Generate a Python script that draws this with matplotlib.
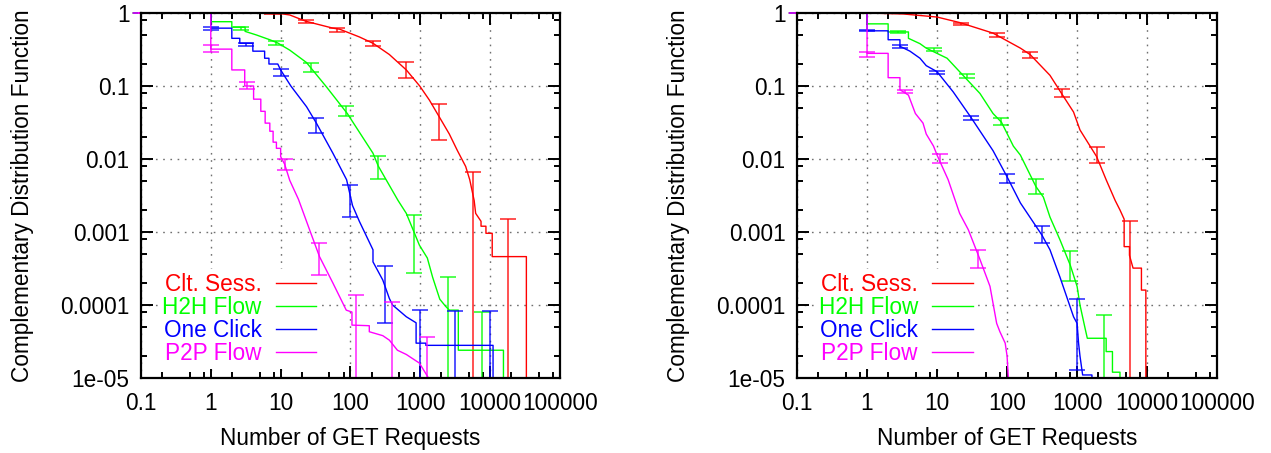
import numpy as np
import matplotlib.pyplot as plt
from matplotlib.ticker import FixedLocator, FixedFormatter, LogLocator, NullFormatter
from matplotlib.lines import Line2D

plt.rcParams['font.family'] = ['Liberation Sans', 'DejaVu Sans']
FS = 16.3

SERIES = ['Clt. Sess.', 'H2H Flow', 'One Click', 'P2P Flow']
COLORS = ['#ff0000', '#00ff00', '#0000ff', '#ff00ff']

XTICKS = [0.1, 1, 10, 100, 1000, 10000, 100000]
XTICK_LABELS = ['0.1', '1', '10', '100', '1000', '10000', '100000']
YTICKS = [1, 0.1, 0.01, 0.001, 0.0001, 0.00001]
YTICK_LABELS = ['1', '0.1', '0.01', '0.001', '0.0001', '1e-05']

# ---- left panel: CCDF curves and error bars (x, low, high) ----
a_sess_x = [0.078, 3, 10, 13.5, 23, 56, 70, 134, 210, 360, 630, 980, 1350, 1860, 2600, 3400,
            4460, 5100, 5900, 6200, 7400, 7400, 8700, 8700, 10700, 10700, 33000, 33000]
a_sess_y = [1, 1, 0.98, 0.94, 0.77, 0.62, 0.6, 0.47, 0.385, 0.27, 0.166, 0.1, 0.064, 0.038,
            0.022, 0.013, 0.0079, 0.0052, 0.0027, 0.0018, 0.0014, 0.0012, 0.0012, 0.00096,
            0.00096, 0.00046, 0.00046, 1e-5]
a_sess_ex = [2.4, 7.5, 23, 65, 210, 630, 1860, 5600, 17900]
a_sess_lo = [0.995, 0.975, 0.74, 0.55, 0.35, 0.13, 0.018, 1e-5, 1e-5]
a_sess_hi = [1.0, 0.995, 0.80, 0.62, 0.42, 0.215, 0.057, 0.0067, 0.0015]

a_h2h_x = [0.078, 1, 1, 2.0, 2.0, 3.1, 3.1, 4.5, 7, 9, 13.5, 23.4, 45, 90, 210, 250, 480,
           630, 970, 1260, 1500, 1900, 2300, 2600, 3500, 3500, 15500, 15500]
a_h2h_y = [1, 1, 0.76, 0.76, 0.64, 0.64, 0.56, 0.5, 0.43, 0.39, 0.31, 0.21, 0.098, 0.042,
           0.012, 0.008, 0.0027, 0.0018, 0.00066, 0.00044, 0.00024, 0.00012, 0.000096,
           0.000085, 0.000085, 0.000024, 0.000024, 1e-5]
a_h2h_ex = [0.9, 2.75, 8.7, 27, 85, 250, 800, 2460, 7600]
a_h2h_lo = [1.0, 0.59, 0.365, 0.157, 0.039, 0.0054, 0.00027, 1e-5, 1e-5]
a_h2h_hi = [1.0, 0.65, 0.41, 0.205, 0.054, 0.011, 0.0017, 0.00024, 0.000079]

a_click_x = [0.078, 1, 1, 2.0, 2.0, 2.6, 2.6, 4, 4, 5.9, 5.9, 6.8, 6.8, 9.1, 10, 14, 23.5,
             32.5, 56, 88, 107, 134, 210, 210, 290, 360, 400, 630, 870, 870, 1200, 1200,
             11000, 11000]
a_click_y = [1, 1, 0.62, 0.62, 0.45, 0.45, 0.385, 0.385, 0.3, 0.3, 0.24, 0.24, 0.2, 0.2,
             0.166, 0.1, 0.052, 0.031, 0.012, 0.0052, 0.0023, 0.0014, 0.00057, 0.00039,
             0.00022, 0.000123, 0.0001, 0.000069, 0.000057, 0.00003, 0.00003, 0.000028,
             0.000028, 1e-5]
a_click_ex = [0.32, 1, 3.2, 10, 32, 100, 316, 1000, 3160, 10000]
a_click_lo = [1, 0.58, 0.35, 0.135, 0.023, 0.0016, 0.000057, 1e-5, 1e-5, 1e-5]
a_click_hi = [1, 0.65, 0.39, 0.17, 0.036, 0.0044, 0.00034, 0.000085, 0.000084, 0.000084]

a_p2p_x = [0.078, 1, 1, 2.0, 2.0, 3.06, 3.06, 4.1, 4.1, 5.2, 5.2, 6, 6, 7, 7, 7.8, 7.8, 8.7,
           8.7, 10, 10, 11.4, 13.5, 18, 26, 36, 56, 87, 105, 105, 186, 186, 290, 360, 470,
           630, 970, 1270, 1300]
a_p2p_y = [1, 1, 0.32, 0.32, 0.166, 0.166, 0.1, 0.1, 0.066, 0.066, 0.045, 0.045, 0.031,
           0.031, 0.024, 0.024, 0.017, 0.017, 0.014, 0.014, 0.0108, 0.0085, 0.0051, 0.0028,
           0.00107, 0.00046, 0.0002, 0.000085, 0.00008, 0.000053, 0.000052, 0.000043,
           0.000038, 0.000033, 0.000024, 0.000021, 0.000016, 0.0000105, 1e-5]
a_p2p_ex = [0.12, 0.36, 1, 3.3, 11.4, 36, 120, 390, 1260]
a_p2p_lo = [1, 1, 0.29, 0.09, 0.0071, 0.00026, 1e-5, 1e-5, 1e-5]
a_p2p_hi = [1, 1, 0.36, 0.114, 0.0099, 0.0007, 0.000135, 0.00011, 0.000036]

# ---- right panel ----
b_sess_x = [0.078, 1, 3.3, 10, 21, 63, 155, 213, 410, 600, 890, 1100, 1900, 2600, 3500, 4100,
            4700, 4700, 5600, 5600, 6300, 8300, 8300, 9600, 9600]
b_sess_y = [1, 1, 0.97, 0.88, 0.74, 0.53, 0.33, 0.27, 0.14, 0.079, 0.044, 0.025, 0.0108,
            0.0052, 0.0027, 0.002, 0.0015, 0.00063, 0.00063, 0.00048, 0.00032, 0.00032,
            0.00016, 0.00016, 1e-5]
b_sess_ex = [0.7, 22, 71, 213, 600, 1900, 5700]
b_sess_lo = [1, 0.69, 0.47, 0.24, 0.07, 0.0087, 1e-5]
b_sess_hi = [1, 0.74, 0.53, 0.29, 0.09, 0.0148, 0.0014]

b_h2h_x = [0.078, 1, 1, 2, 2, 3.9, 3.9, 5.7, 7, 13.9, 21, 41, 63, 83, 123, 155, 258, 330, 410,
           570, 800, 1000, 1100, 1300, 1400, 2600, 2600, 3200, 3200, 4100, 4100]
b_h2h_y = [1, 1, 0.71, 0.71, 0.55, 0.55, 0.45, 0.38, 0.33, 0.24, 0.157, 0.079, 0.042, 0.032,
           0.015, 0.0113, 0.0042, 0.003, 0.0016, 0.00078, 0.00035, 0.00018, 0.0001, 0.000048,
           0.000035, 0.000035, 0.000023, 0.000023, 0.000012, 0.000012, 1e-5]
b_h2h_ex = [0.85, 2.8, 8.9, 26.5, 83, 258, 800, 2460]
b_h2h_lo = [1, 0.53, 0.30, 0.127, 0.029, 0.0033, 0.00021, 1e-5]
b_h2h_hi = [1, 0.57, 0.33, 0.146, 0.036, 0.0053, 0.00055, 0.000074]

b_click_x = [0.078, 1, 1, 2, 2, 2.95, 2.95, 4.1, 5.7, 7, 10, 17, 30, 63, 100, 155, 316, 410,
             570, 710, 890, 1000, 1050, 1100, 1200, 1630, 1630]
b_click_y = [1, 1, 0.57, 0.57, 0.43, 0.43, 0.35, 0.3, 0.24, 0.19, 0.157, 0.083, 0.038, 0.013,
             0.0057, 0.0025, 0.0009, 0.00057, 0.00024, 0.00013, 0.000069, 0.000056, 0.00003,
             0.00002, 0.000011, 0.000011, 1e-5]
b_click_ex = [0.32, 1, 3.0, 10, 31, 100, 316, 1000]
b_click_lo = [1, 0.56, 0.33, 0.145, 0.034, 0.0047, 0.0007, 0.000013]
b_click_hi = [1, 0.58, 0.36, 0.16, 0.039, 0.0063, 0.0012, 0.00012]

b_p2p_x = [0.078, 1, 1, 2, 2, 2.95, 2.95, 3.9, 4.9, 6.3, 7, 8.9, 10, 14.4, 21, 28, 41, 57, 71,
           79, 94, 100, 104, 105]
b_p2p_y = [1, 1, 0.28, 0.28, 0.13, 0.13, 0.089, 0.075, 0.042, 0.031, 0.022, 0.015, 0.0113,
           0.0052, 0.0018, 0.00107, 0.00042, 0.00018, 0.000056, 0.000043, 0.00003, 0.00002,
           0.0000105, 1e-5]
b_p2p_ex = [0.12, 0.36, 1, 3.5, 11, 38]
b_p2p_lo = [1, 1, 0.25, 0.079, 0.0087, 0.00032]
b_p2p_hi = [1, 1, 0.295, 0.089, 0.0117, 0.00057]

left_data = [
    (a_sess_x, a_sess_y, a_sess_ex, a_sess_lo, a_sess_hi),
    (a_h2h_x, a_h2h_y, a_h2h_ex, a_h2h_lo, a_h2h_hi),
    (a_click_x, a_click_y, a_click_ex, a_click_lo, a_click_hi),
    (a_p2p_x, a_p2p_y, a_p2p_ex, a_p2p_lo, a_p2p_hi),
]
right_data = [
    (b_sess_x, b_sess_y, b_sess_ex, b_sess_lo, b_sess_hi),
    (b_h2h_x, b_h2h_y, b_h2h_ex, b_h2h_lo, b_h2h_hi),
    (b_click_x, b_click_y, b_click_ex, b_click_lo, b_click_hi),
    (b_p2p_x, b_p2p_y, b_p2p_ex, b_p2p_lo, b_p2p_hi),
]


def draw_panel(ax, data):
    for (x, y, ex, lo, hi), col in zip(data, COLORS):
        # curves start a little left of the frame, as the plotting tool did
        ax.plot(x, y, color=col, lw=1.0, clip_on=False)
        lo = np.array(lo)
        hi = np.array(hi)
        eb = ax.errorbar(ex, lo, yerr=[np.zeros_like(lo), hi - lo], fmt='none',
                         ecolor=col, elinewidth=1.2, capsize=5.5, capthick=1.2, alpha=0.8)
        for art in eb.lines[1] + eb.lines[2]:
            art.set_clip_on(False)

    ax.set_xscale('log')
    ax.set_yscale('log')
    ax.set_xlim(0.1, 100000)
    ax.set_ylim(1e-5, 1)

    ax.xaxis.set_major_locator(FixedLocator(XTICKS))
    ax.xaxis.set_major_formatter(FixedFormatter(XTICK_LABELS))
    ax.yaxis.set_major_locator(FixedLocator(YTICKS))
    ax.yaxis.set_major_formatter(FixedFormatter(YTICK_LABELS))
    for axis in (ax.xaxis, ax.yaxis):
        axis.set_minor_locator(LogLocator(base=10, subs=[2, 5, 8], numticks=30))
        axis.set_minor_formatter(NullFormatter())

    ax.tick_params(which='both', direction='in', top=True, right=True, width=1.4,
                   labelsize=FS)
    ax.tick_params(which='major', length=8.6)
    ax.tick_params(which='minor', length=4.0)
    ax.tick_params(axis='x', pad=9.8)
    ax.tick_params(axis='y', pad=8.3)
    for sp in ax.spines.values():
        sp.set_linewidth(1.6)

    ax.grid(True, which='major', linestyle=(0, (1.2, 4)), color='#707070', lw=1.0)

    ax.set_xlabel('Number of GET Requests', fontsize=FS, labelpad=9)
    ax.set_ylabel('Complementary Distribution Function', fontsize=FS, labelpad=19)

    handles = [Line2D([], [], color=c, lw=1.0) for c in COLORS]
    leg = ax.legend(handles, SERIES, loc='lower right', bbox_to_anchor=(0.4286, 0.025),
                    borderaxespad=0, fontsize=FS, markerfirst=False, labelcolor='linecolor',
                    handlelength=1.81, handletextpad=0.62, borderpad=0.18,
                    labelspacing=0.0, frameon=True, fancybox=False)
    leg.get_frame().set_facecolor('white')
    leg.get_frame().set_edgecolor('none')
    leg.get_frame().set_alpha(1.0)
    leg.set_zorder(1.8)


fig = plt.figure(figsize=(12.71, 4.53), dpi=100)
ax1 = fig.add_axes([0.1109, 0.1656, 0.3297, 0.8057])
ax2 = fig.add_axes([0.6271, 0.1656, 0.3305, 0.8057])
draw_panel(ax1, left_data)
draw_panel(ax2, right_data)

fig.savefig('out.png', dpi=100)
